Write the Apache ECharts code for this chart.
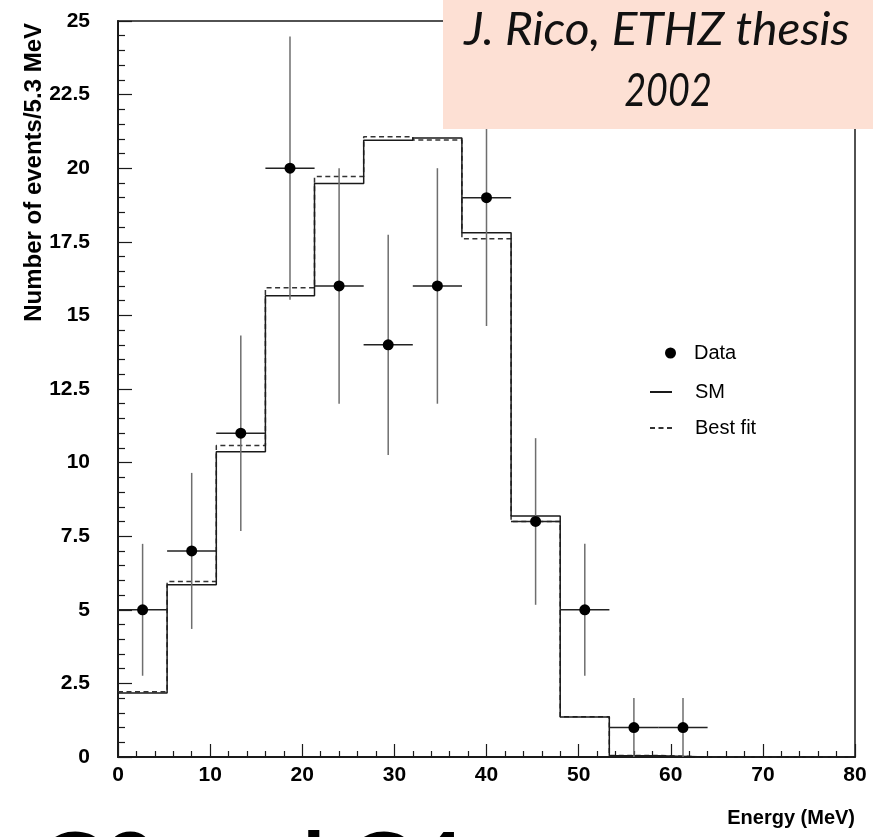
<!DOCTYPE html>
<html>
<head>
<meta charset="utf-8">
<script src="https://cdn.jsdelivr.net/npm/echarts@6/dist/echarts.min.js"></script>
<style>
  html, body { margin: 0; padding: 0; background: #fff; }
  #chart { width: 873px; height: 837px; }
</style>
</head>
<body>
<div id="chart"></div>
<script>
// Histogram bins (MeV): lower edges, plus the upper end of the axis
const binEdges = [0, 5.33, 10.67, 16, 21.33, 26.67, 32, 37.33, 42.67, 48, 53.33, 58.67, 64, 69.33, 74.67, 80];
// Bin centres of the measured points and the half bin width used for x error bars
const binCenters = [2.67, 8, 13.33, 18.67, 24, 29.33, 34.67, 40, 45.33, 50.67, 56, 61.33];
const halfBin = 2.67;

// Measured counts with their statistical errors
const dataCounts = [5, 7, 11, 20, 16, 14, 16, 19, 8, 5, 1, 1];
const dataErrors = [2.24, 2.65, 3.32, 4.47, 4, 3.74, 4, 4.36, 2.83, 2.24, 1, 1];

// Expected counts per bin: Standard Model and best fit
const smCounts  = [2.17, 5.85, 10.37, 15.67, 19.48, 20.95, 21.03, 17.81, 8.19, 1.36, 0.04, 0, 0, 0, 0];
const fitCounts = [2.22, 5.96, 10.58, 15.94, 19.72, 21.07, 20.96, 17.6, 8.0, 1.37, 0.05, 0, 0, 0, 0];

// Axis ranges and tick spacing
const xRange = [0, 80], xStep = 10;
const yRange = [0, 25], yStep = 2.5;

const labelFont = '"Liberation Sans", Arial, Helvetica, sans-serif';
const ink = '#1a1a1a';

// Step outline: each bin holds its value until the next edge
function stepPoints(values) {
  const pts = values.map((v, i) => [binEdges[i], v]);
  pts.push([binEdges[binEdges.length - 1], values[values.length - 1]]);
  return pts;
}

const chart = echarts.init(document.getElementById('chart'), null, { renderer: 'canvas' });

chart.setOption({
  animation: false,
  backgroundColor: '#fff',
  grid: {
    left: 118, right: 18, top: 21, bottom: 80,
    show: true, borderColor: ink, borderWidth: 1.5, backgroundColor: 'transparent'
  },
  xAxis: {
    type: 'value', min: xRange[0], max: xRange[1], interval: xStep,
    axisLine: { lineStyle: { color: ink, width: 2 } },
    axisTick: { inside: true, length: 13, lineStyle: { color: ink, width: 1.2 } },
    minorTick: { show: true, splitNumber: 5, length: 6, lineStyle: { color: ink, width: 1.2 } },
    splitLine: { show: false },
    axisLabel: { color: '#000', fontFamily: labelFont, fontWeight: 'bold', fontSize: 21, margin: 8 }
  },
  yAxis: {
    type: 'value', min: yRange[0], max: yRange[1], interval: yStep,
    axisLine: { show: true, lineStyle: { color: ink, width: 2 } },
    axisTick: { show: true, inside: true, length: 14, lineStyle: { color: ink, width: 1.2 } },
    minorTick: { show: true, splitNumber: 5, length: 7, lineStyle: { color: ink, width: 1.2 } },
    splitLine: { show: false },
    axisLabel: { color: '#000', fontFamily: labelFont, fontWeight: 'bold', fontSize: 21, margin: 28 }
  },
  legend: [
    {
      data: [{ name: 'Data', icon: 'circle', itemStyle: { color: '#000', opacity: 1 } }],
      orient: 'vertical', left: 660, top: 338, padding: 5,
      itemWidth: 11, itemHeight: 11,
      textStyle: { color: '#000', fontFamily: labelFont, fontSize: 20, padding: [0, 0, 0, 13] },
      selectedMode: false
    },
    {
      data: [
        { name: 'SM', itemStyle: { opacity: 0 } },
        { name: 'Best fit', itemStyle: { opacity: 0 } }
      ],
      orient: 'vertical', left: 644, top: 377, padding: 5,
      itemWidth: 22, itemHeight: 14, itemGap: 16,
      textStyle: { color: '#000', fontFamily: labelFont, fontSize: 20, padding: [0, 0, 0, 18] },
      selectedMode: false
    }
  ],
  series: [
    {
      name: 'Best fit', type: 'line', step: 'end', symbol: 'none',
      data: stepPoints(fitCounts),
      lineStyle: { color: '#333', width: 1.5, type: [5, 3.5] },
      itemStyle: { color: '#333' },
      z: 3
    },
    {
      name: 'SM', type: 'line', step: 'end', symbol: 'none',
      data: stepPoints(smCounts),
      lineStyle: { color: ink, width: 1.5 },
      itemStyle: { color: ink },
      z: 4
    },
    {
      name: 'Data errors', type: 'custom',
      data: binCenters.map((c, i) => [c, dataCounts[i], dataErrors[i], halfBin]),
      renderItem: function (params, api) {
        const x = api.value(0), y = api.value(1), e = api.value(2), h = api.value(3);
        const top = api.coord([x, y + e]);
        const bot = api.coord([x, Math.max(y - e, 0)]);
        const lft = api.coord([x - h, y]);
        const rgt = api.coord([x + h, y]);
        return {
          type: 'group',
          children: [
            { type: 'line', shape: { x1: top[0], y1: top[1], x2: bot[0], y2: bot[1] },
              style: { stroke: '#6e6e6e', lineWidth: 1.5 } },
            { type: 'line', shape: { x1: lft[0], y1: lft[1], x2: rgt[0], y2: rgt[1] },
              style: { stroke: '#222', lineWidth: 1.5 } }
          ]
        };
      },
      z: 5, silent: true
    },
    {
      name: 'Data', type: 'scatter',
      data: binCenters.map((c, i) => [c, dataCounts[i]]),
      symbol: 'circle', symbolSize: 11,
      itemStyle: { color: '#000', opacity: 1 },
      z: 6
    }
  ],
  graphic: [
    // Y axis title
    {
      type: 'text', x: 34, y: 23, rotation: Math.PI / 2, z: 10,
      style: {
        text: 'Number of events/5.3 MeV', fill: '#000',
        font: 'bold 24px ' + labelFont, align: 'right', verticalAlign: 'middle'
      }
    },
    // X axis title
    {
      type: 'text', x: 855, y: 818, z: 10,
      style: {
        text: 'Energy (MeV)', fill: '#000',
        font: 'bold 20px ' + labelFont, align: 'right', verticalAlign: 'middle'
      }
    },
    // Reference box
    {
      type: 'rect', z: 20,
      shape: { x: 443, y: 0, width: 430, height: 129 },
      style: { fill: '#fde0d4' }
    },
    {
      type: 'text', x: 657, y: 30, z: 21, scaleX: 1.04,
      style: {
        text: 'J. Rico, ETHZ thesis', fill: '#111',
        font: 'italic 46px Lato, "Open Sans", sans-serif', align: 'center', verticalAlign: 'middle'
      }
    },
    {
      type: 'text', x: 668, y: 91, z: 21, scaleX: 0.82,
      style: {
        text: '2002', fill: '#111',
        font: 'italic 46px Lato, "Open Sans", sans-serif', align: 'center', verticalAlign: 'middle'
      }
    },
    // Slide heading running off the bottom edge
    {
      type: 'text', x: 38, y: 868, z: 10,
      style: {
        text: 'G3 and G4', fill: '#000',
        font: 'bold 90px Lato, sans-serif', align: 'left', verticalAlign: 'middle'
      }
    }
  ]
});
</script>
</body>
</html>
